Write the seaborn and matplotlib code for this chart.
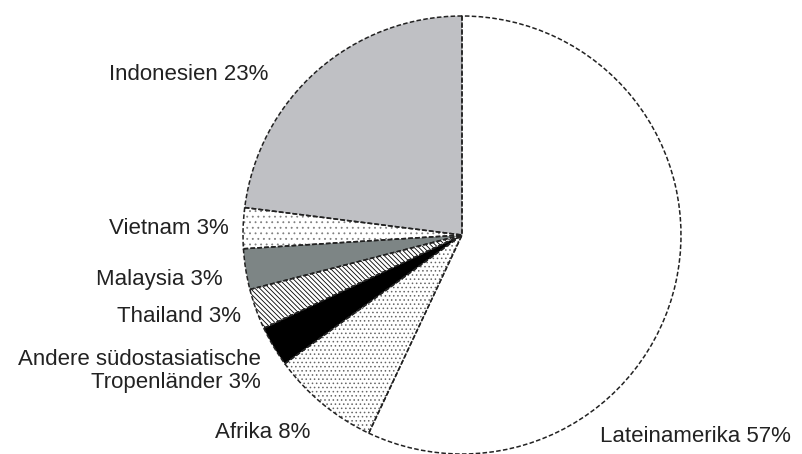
import matplotlib
matplotlib.use("Agg")
import matplotlib.pyplot as plt
import seaborn as sns

sns.set_theme(style="white")
plt.rcParams["font.family"] = ["Liberation Sans", "DejaVu Sans"]
plt.rcParams["hatch.linewidth"] = 0.6

regions = ["Lateinamerika", "Afrika", "Andere südostasiatische\nTropenländer",
           "Thailand", "Malaysia", "Vietnam", "Indonesien"]
shares = [57, 8, 3, 3, 3, 3, 23]

fills = ["white", "white", "black", "white", "#7d8585", "white", "#bfc0c4"]
hatches = [None, "....", None, "\\\\\\\\\\\\\\", None, "...", None]
hatch_colors = ["black", "#666666", "black", "black", "black", "#808080", "black"]

# label anchor points in pixel space (x, y from top) and alignment
label_px = [(600, 437, "left"), (310, 433, "right"), (261, 371, "right"),
            (241, 317, "right"), (223, 280, "right"), (229, 229, "right"),
            (268, 74, "right")]

W, H, DPI = 802, 454, 100
cx, cy, R = 462, 235, 219

fig = plt.figure(figsize=(W / DPI, H / DPI), dpi=DPI)
ax = fig.add_axes([0, 0, 1, 1])

# filled wedges with hatching (hatch takes the edge colour)
wedges, _ = ax.pie(shares, startangle=90, counterclock=False, radius=1,
                   colors=fills, wedgeprops=dict(linewidth=0))
for w, h, hc in zip(wedges, hatches, hatch_colors):
    if h:
        w.set_hatch(h)
        w.set_edgecolor(hc)

# outlines on top
outl, _ = ax.pie(shares, startangle=90, counterclock=False, radius=1,
                 colors=["none"] * len(shares),
                 wedgeprops=dict(linewidth=1.1, edgecolor="#222222",
                                 linestyle=(0, (3, 1.5)), fill=False))

for name, pct, (px, py, ha) in zip(regions, shares, label_px):
    xd = (px - cx) / R
    yd = (cy - py) / R
    ax.text(xd, yd, f"{name} {pct}%", ha=ha, va="center", fontsize=16,
            color="#222222", linespacing=1.15, multialignment="right")

ax.set_xlim(-cx / R, (W - cx) / R)
ax.set_ylim(-(H - cy) / R, cy / R)
ax.set_aspect("auto")
ax.axis("off")

fig.savefig("out.png", dpi=DPI, facecolor="white")
